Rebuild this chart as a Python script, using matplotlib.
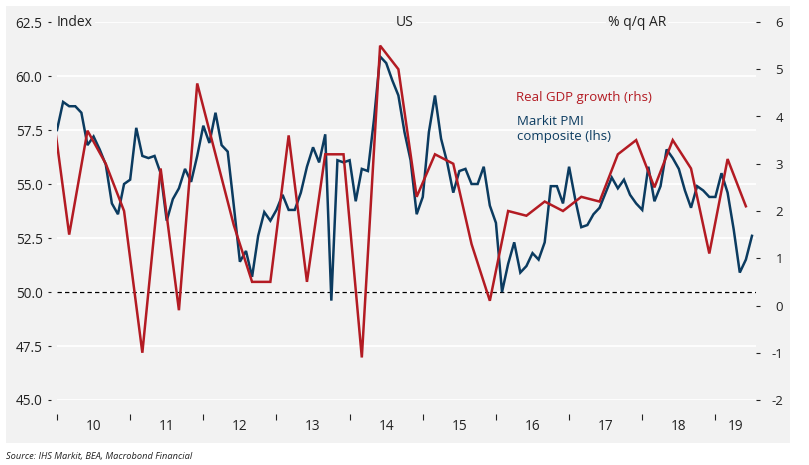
import numpy as np
import matplotlib
matplotlib.use('Agg')
import matplotlib.pyplot as plt
from matplotlib.patches import Rectangle

plt.rcParams['font.family'] = ['Open Sans', 'DejaVu Sans']

# Markit PMI composite (lhs), monthly from Jan 2010
pmi = [57.5, 58.8, 58.6, 58.6, 58.3, 56.8, 57.2, 56.6, 55.9, 54.1, 53.6, 55.0,
       55.2, 57.6, 56.3, 56.2, 56.3, 55.5, 53.3, 54.3, 54.8, 55.7, 55.1, 56.3,
       57.7, 56.9, 58.3, 56.8, 56.5, 54.0, 51.4, 51.9, 50.7, 52.6, 53.7, 53.3,
       53.8, 54.5, 53.8, 53.8, 54.6, 55.8, 56.7, 56.0, 57.3, 49.6, 56.1, 56.0,
       56.1, 54.2, 55.7, 55.6, 58.0, 60.9, 60.6, 59.8, 59.1, 57.4, 56.1, 53.6,
       54.4, 57.4, 59.1, 57.1, 56.0, 54.6, 55.6, 55.7, 55.0, 55.0, 55.8, 54.0,
       53.2, 50.0, 51.3, 52.3, 50.9, 51.2, 51.8, 51.5, 52.3, 54.9, 54.9, 54.1,
       55.8, 54.3, 53.0, 53.1, 53.6, 53.9, 54.6, 55.3, 54.8, 55.2, 54.5, 54.1,
       53.8, 55.8, 54.2, 54.9, 56.6, 56.2, 55.7, 54.7, 53.9, 54.9, 54.7, 54.4,
       54.4, 55.5, 54.6, 52.9, 50.9, 51.5, 52.6]

# Real GDP growth (rhs), % q/q AR, quarterly from Q4 2009
gdp = [4.4,
       1.5, 3.7, 3.0, 2.0,
       -1.0, 2.9, -0.1, 4.7,
       3.2, 1.7, 0.5, 0.5,
       3.6, 0.5, 3.2, 3.2,
       -1.1, 5.5, 5.0, 2.3,
       3.2, 3.0, 1.3, 0.1,
       2.0, 1.9, 2.2, 2.0,
       2.3, 2.2, 3.2, 3.5,
       2.5, 3.5, 2.9, 1.1,
       3.1, 2.1]

years = list(range(2010, 2020))
year_labels = ['10', '11', '12', '13', '14', '15', '16', '17', '18', '19']
left_ticks = [45.0, 47.5, 50.0, 52.5, 55.0, 57.5, 60.0, 62.5]
right_ticks = [-2, -1, 0, 1, 2, 3, 4, 5, 6]

RED = '#b31b23'
BLUE = '#0b3b60'
BG = '#f2f2f2'
TXT = '#222222'

pmi_x = 2010 + np.arange(len(pmi)) / 12
gdp_x = 2009.75 + np.arange(len(gdp)) * 0.25 + 1 / 6
x_max = 2019.555

fig = plt.figure(figsize=(8.09, 4.65), dpi=100)
fig.patches.append(Rectangle((6 / 809, 22 / 465), 784 / 809, 437 / 465,
                             transform=fig.transFigure, facecolor=BG,
                             edgecolor='none', zorder=-10))

ax = fig.add_axes([57 / 809, 1 - 400 / 465, 699 / 809, 378 / 465])
ax.set_facecolor(BG)
ax2 = ax.twinx()

ax.plot(pmi_x, pmi, color=BLUE, lw=1.8, solid_joinstyle='miter', zorder=3)
ax2.plot(gdp_x, gdp, color=RED, lw=1.8, solid_joinstyle='miter', zorder=3)

ax.set_xlim(2010, x_max)
ax.set_ylim(45, 62.5)
ax2.set_ylim(-2, 6)

ax.set_axisbelow(True)
ax.set_yticks(left_ticks)
ax.set_yticklabels([f'{v:.1f}' for v in left_ticks])
ax.grid(axis='y', color='white', lw=1.3)
ax.axhline(50, color='black', lw=0.9, ls=(0, (3.5, 2.5)), zorder=2)

ax2.set_yticks(right_ticks)
ax2.set_yticklabels([str(v) for v in right_ticks])

for a in (ax, ax2):
    for s in a.spines.values():
        s.set_visible(False)

ax.spines['left'].set_position(('outward', 4))
ax.spines['bottom'].set_position(('outward', 10))
ax.tick_params(axis='y', length=2.4, width=0.8, pad=4, labelsize=9.8,
               colors=TXT)
ax2.tick_params(axis='y', length=3, width=0.8, pad=16.5, labelsize=9.5,
                colors=TXT)
for lbl in ax2.get_yticklabels():
    lbl.set_ha('right')

# year ticks at boundaries, labels centred in each year
ax.set_xticks(years)
ax.set_xticklabels([])
label_pos = [(y + min(y + 1, x_max)) / 2 for y in years]
ax.set_xticks(label_pos, minor=True)
ax.set_xticklabels(year_labels, minor=True)
ax.tick_params(axis='x', which='major', length=4, width=0.8, color=TXT)
ax.tick_params(axis='x', which='minor', length=0, pad=4, labelsize=9.8,
               labelcolor=TXT)

box = dict(facecolor=BG, edgecolor='none', pad=1.5)
ax.text(0.0, 1.0, 'Index', transform=ax.transAxes, ha='left', va='center',
        fontsize=10, color=TXT, bbox=box, zorder=5)
ax.text(0.498, 1.0, 'US', transform=ax.transAxes, ha='center', va='center',
        fontsize=10, color=TXT, bbox=box, zorder=5)
ax.text(0.83, 1.0, '% q/q AR', transform=ax.transAxes, ha='center',
        va='center', fontsize=10, color=TXT, bbox=box, zorder=5)

ax2.text(0.657, 0.799, 'Real GDP growth (rhs)', transform=ax.transAxes,
         ha='left', va='center', fontsize=9.5, color=RED)
ax2.text(0.658, 0.754, 'Markit PMI\ncomposite (lhs)', transform=ax.transAxes,
         ha='left', va='top', fontsize=9.5, color=BLUE, linespacing=1.2)

fig.text(6 / 809, 1 - 456 / 465, 'Source: IHS Markit, BEA, Macrobond Financial',
         ha='left', va='center', fontsize=6.7, style='italic', color=TXT)

fig.savefig('out.png', dpi=100, facecolor='white')
